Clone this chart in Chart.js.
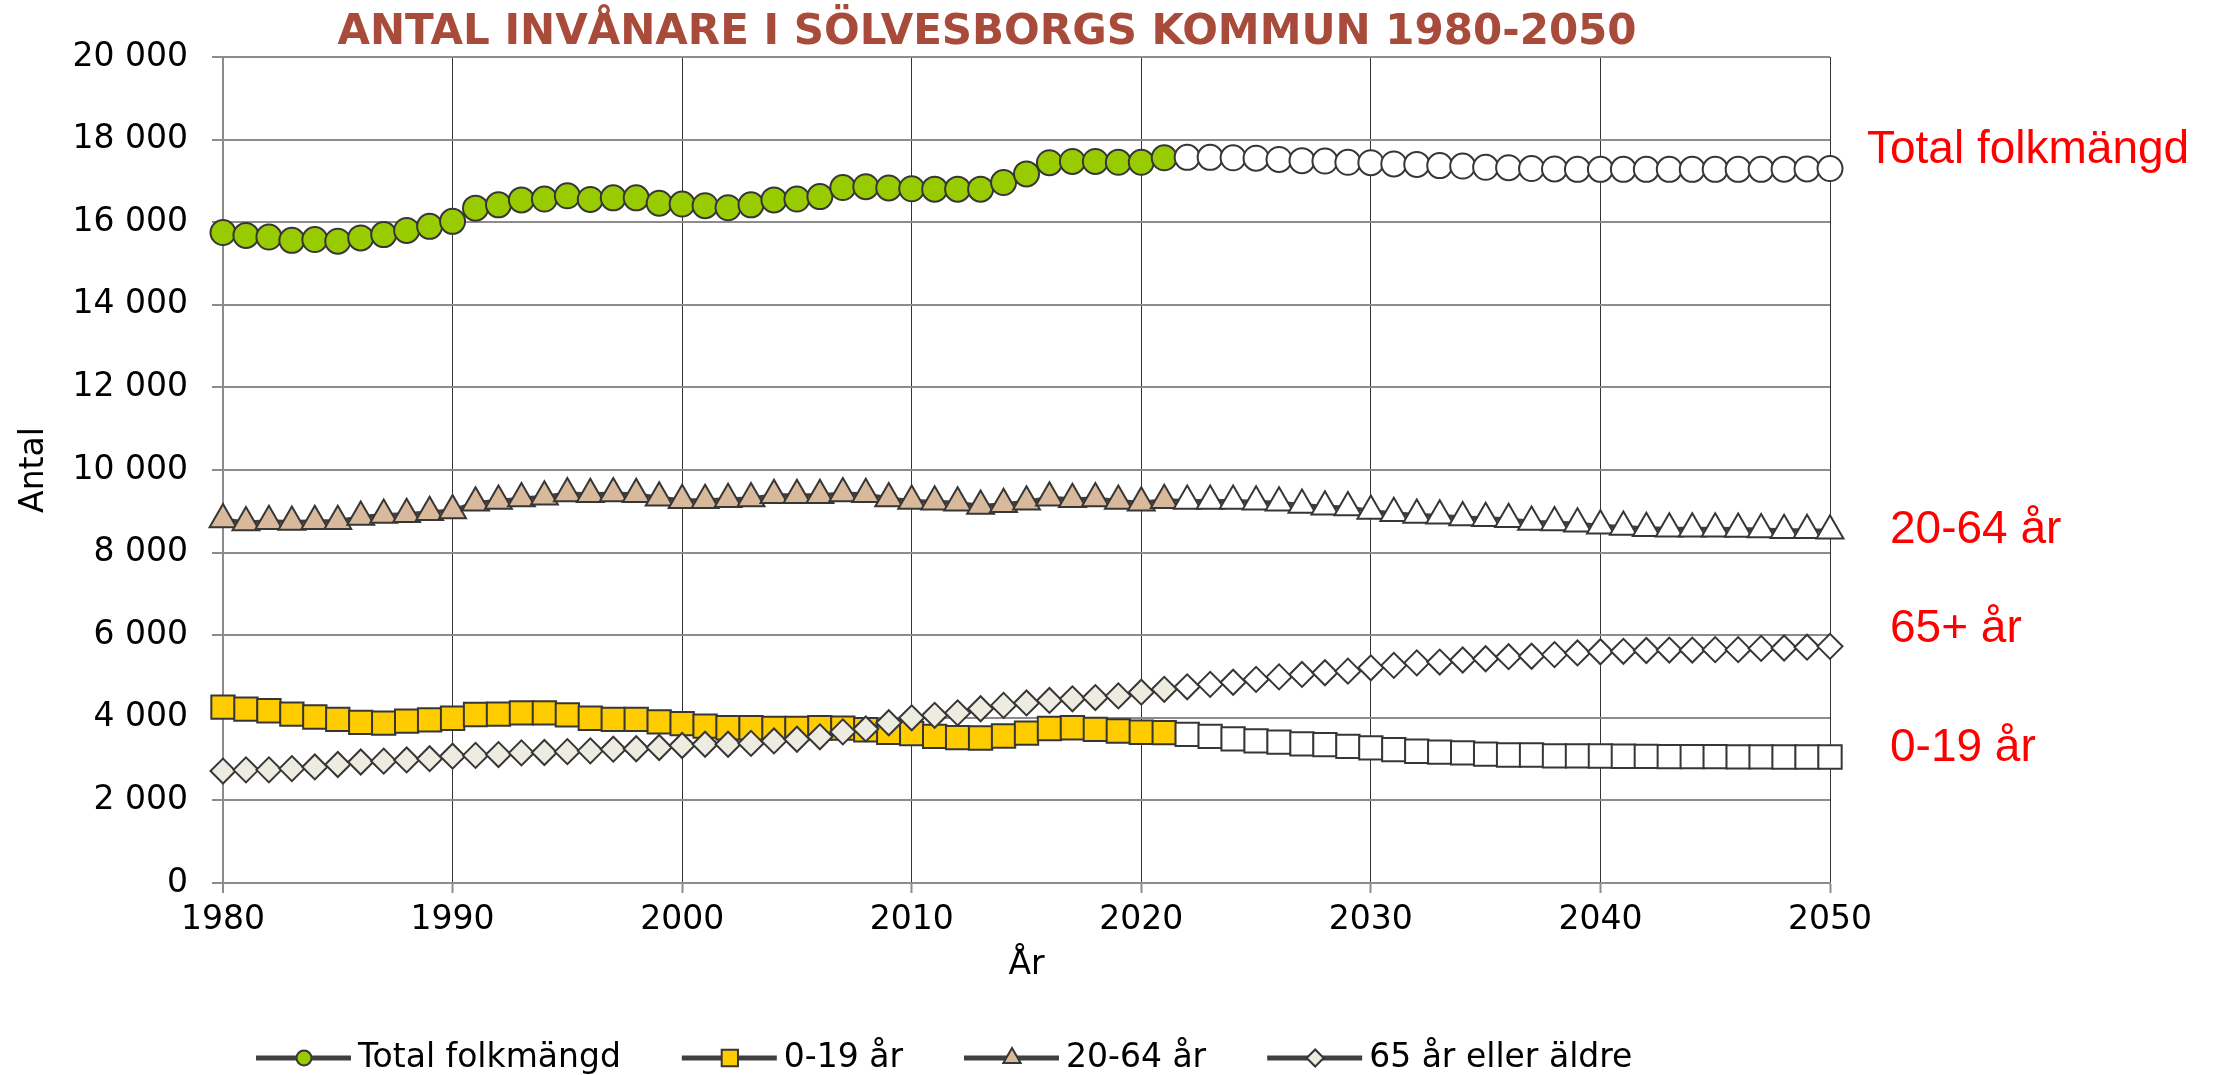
<!DOCTYPE html>
<html>
<head>
  <meta charset="utf-8"/>
  <script src="https://cdn.jsdelivr.net/npm/chart.js@4.4.1/dist/chart.umd.min.js"></script>
  <style>
    body { margin: 0; background: #ffffff; }
    canvas { display: block; }
  </style>
</head>
<body>
  <canvas id="chart" width="2226" height="1075"></canvas>
  <script>
    var years = [1980, 1981, 1982, 1983, 1984, 1985, 1986, 1987, 1988, 1989,
                 1990, 1991, 1992, 1993, 1994, 1995, 1996, 1997, 1998, 1999,
                 2000, 2001, 2002, 2003, 2004, 2005, 2006, 2007, 2008, 2009,
                 2010, 2011, 2012, 2013, 2014, 2015, 2016, 2017, 2018, 2019,
                 2020, 2021, 2022, 2023, 2024, 2025, 2026, 2027, 2028, 2029,
                 2030, 2031, 2032, 2033, 2034, 2035, 2036, 2037, 2038, 2039,
                 2040, 2041, 2042, 2043, 2044, 2045, 2046, 2047, 2048, 2049,
                 2050];
    // last year with outcome, later points are the forecast (white markers)
    var lastObserved = 2021;

    var total = [15750, 15680, 15640, 15560, 15580, 15540, 15620, 15700, 15800, 15900,
                 16020, 16340, 16420, 16540, 16560, 16640, 16550, 16590, 16590, 16460,
                 16440, 16400, 16350, 16420, 16540, 16560, 16620, 16840, 16860, 16830,
                 16810, 16800, 16800, 16800, 16960, 17170, 17440, 17470, 17470, 17450,
                 17450, 17560, 17570, 17570, 17560, 17550, 17520, 17490, 17480, 17450,
                 17440, 17410, 17400, 17370, 17360, 17330, 17320, 17300, 17290, 17280,
                 17280, 17280, 17280, 17280, 17280, 17280, 17280, 17280, 17285, 17290,
                 17300];
    var age0to19 = [4260, 4210, 4170, 4090, 4020, 3960, 3890, 3870, 3920, 3950,
                    3990, 4080, 4090, 4120, 4120, 4070, 3990, 3960, 3960, 3900,
                    3860, 3800, 3760, 3760, 3745, 3745, 3760, 3750, 3710, 3650,
                    3620, 3550, 3520, 3510, 3560, 3630, 3740, 3760, 3720, 3680,
                    3650, 3640, 3600, 3550, 3490, 3440, 3410, 3370, 3350, 3310,
                    3270, 3230, 3190, 3170, 3150, 3120, 3100, 3100, 3080, 3080,
                    3075, 3070, 3065, 3060, 3060, 3060, 3055, 3055, 3050, 3050,
                    3050];
    var age20to64 = [8800, 8730, 8760, 8740, 8760, 8760, 8860, 8910, 8930, 8980,
                     9020, 9210, 9250, 9310, 9350, 9430, 9410, 9430, 9410, 9330,
                     9270, 9270, 9290, 9310, 9390, 9390, 9390, 9430, 9410, 9310,
                     9250, 9230, 9210, 9130, 9170, 9230, 9330, 9290, 9310, 9250,
                     9210, 9270, 9250, 9250, 9250, 9230, 9210, 9150, 9110, 9090,
                     9010, 8950, 8910, 8890, 8850, 8830, 8810, 8740, 8730, 8700,
                     8650, 8620, 8590, 8580, 8580, 8580, 8570, 8560, 8540, 8540,
                     8530];
    var age65plus = [2710, 2740, 2740, 2770, 2810, 2870, 2930, 2950, 2980, 3010,
                     3070, 3090, 3110, 3150, 3160, 3180, 3200, 3240, 3250, 3280,
                     3330, 3360, 3360, 3380, 3440, 3480, 3540, 3660, 3730, 3880,
                     4000, 4060, 4120, 4220, 4300, 4360, 4420, 4460, 4490, 4530,
                     4620, 4690, 4750, 4810, 4860, 4930, 4990, 5050, 5090, 5130,
                     5210, 5270, 5330, 5350, 5400, 5430, 5480, 5490, 5530, 5570,
                     5600, 5610, 5630, 5640, 5640, 5650, 5650, 5680, 5690, 5710,
                     5730];

    var seriesNames = ["Total folkmängd", "0-19 år", "20-64 år", "65 år eller äldre"];

    // red labels to the right of the plot, y given in data units
    var sideLabels = ["Total folkmängd", "20-64 år", "65+ år", "0-19 år"];
    var sideLabelValues = [17750, 8550, 6150, 3270];

    var yTicks = { min: 0, max: 20000, step: 2000 };
    var xTicks = { min: 1980, max: 2050, step: 10 };

    var FONT = '"DejaVu Sans", "Liberation Sans", sans-serif';
    var TEXT_SIZE = 33;
    var LINE = "#404040";
    var EDGE = "#363636";
    var GRID = "#8c8c8c";

    function points(values) {
      var out = [];
      for (var i = 0; i < years.length; i++) out.push({ x: years[i], y: values[i] });
      return out;
    }

    function fillFor(color) {
      return function(ctx) {
        return years[ctx.dataIndex] > lastObserved ? "#ffffff" : color;
      };
    }

    function spaced(v) {
      return String(v).replace(/\B(?=(\d{3})+(?!\d))/g, " ");
    }

    function series(i, values, color, style, radius, legendRadius, order) {
      return {
        label: seriesNames[i],
        data: points(values),
        order: order,
        clip: false,
        borderColor: LINE,
        borderWidth: 4,
        pointStyle: style,
        pointRadius: radius,
        pointBorderWidth: 2,
        pointBorderColor: EDGE,
        pointBackgroundColor: fillFor(color),
        legendColor: color,
        legendRadius: legendRadius
      };
    }

    var decorations = {
      id: "decorations",
      afterDraw: function(chart) {
        var ctx = chart.ctx;
        var yScale = chart.scales.y;
        ctx.save();

        // title
        ctx.fillStyle = "#A84B3B";
        ctx.font = "bold 42px " + FONT;
        ctx.textAlign = "center";
        ctx.textBaseline = "alphabetic";
        ctx.fillText("ANTAL INVÅNARE I SÖLVESBORGS KOMMUN 1980-2050", 987, 44);

        // side labels
        ctx.fillStyle = "#ff0000";
        ctx.font = '46px "Liberation Sans", Arial, sans-serif';
        ctx.textAlign = "left";
        ctx.textBaseline = "middle";
        for (var i = 0; i < sideLabels.length; i++) {
          var lx = i == 0 ? 1867 : 1890;
          ctx.fillText(sideLabels[i], lx, yScale.getPixelForValue(sideLabelValues[i]));
        }

        // legend: line with marker, then the name
        var x = 256, y = 1058;
        ctx.font = TEXT_SIZE + "px " + FONT;
        ctx.textBaseline = "middle";
        chart.data.datasets.forEach(function(ds) {
          ctx.strokeStyle = LINE;
          ctx.lineWidth = 5;
          ctx.beginPath();
          ctx.moveTo(x, y);
          ctx.lineTo(x + 95, y);
          ctx.stroke();
          ctx.fillStyle = ds.legendColor;
          ctx.strokeStyle = EDGE;
          ctx.lineWidth = 2;
          Chart.helpers.drawPoint(ctx, {
            pointStyle: ds.pointStyle, radius: ds.legendRadius, borderWidth: 2, rotation: 0
          }, x + 48, y);
          ctx.fillStyle = "#000000";
          ctx.fillText(ds.label, x + 102, y);
          x += 102 + ctx.measureText(ds.label).width + 61;
        });
        ctx.restore();
      }
    };

    new Chart(document.getElementById("chart"), {
      type: "line",
      data: {
        datasets: [
          series(0, total, "#99CC00", "circle", 12.5, 7.5, 4),
          series(1, age0to19, "#FFCC00", "rect", 16.5, 11.5, 3),
          series(2, age20to64, "#D9B99B", "triangle", 15.5, 10, 2),
          series(3, age65plus, "#EEECE1", "rectRot", 12.5, 8.5, 1)
        ]
      },
      options: {
        responsive: false,
        devicePixelRatio: 1,
        animation: false,
        layout: { padding: { left: 0, top: 57, right: 396, bottom: 90 } },
        plugins: {
          legend: { display: false },
          tooltip: { enabled: false }
        },
        scales: {
          x: {
            type: "linear",
            min: xTicks.min,
            max: xTicks.max,
            afterFit: function(scale) { scale.height = 102; },
            ticks: {
              stepSize: xTicks.step,
              padding: 8,
              color: "#000000",
              font: { family: FONT, size: TEXT_SIZE },
              maxRotation: 0,
              callback: function(v) { return String(v); }
            },
            grid: {
              color: function(c) { return c.tick && c.tick.value == xTicks.min ? GRID : "#333333"; },
              lineWidth: function(c) { return c.tick && c.tick.value == xTicks.min ? 2 : 1; },
              tickColor: GRID,
              tickWidth: 2,
              tickLength: 10
            },
            border: { color: GRID, width: 2 },
            title: {
              display: true,
              text: "År",
              color: "#000000",
              font: { family: FONT, size: TEXT_SIZE },
              padding: { top: 0, bottom: 0 }
            }
          },
          y: {
            min: yTicks.min,
            max: yTicks.max,
            afterFit: function(scale) { scale.width = 223; },
            ticks: {
              stepSize: yTicks.step,
              padding: 24,
              color: "#000000",
              font: { family: FONT, size: TEXT_SIZE },
              callback: function(v) { return spaced(v); }
            },
            grid: {
              color: GRID,
              lineWidth: 2,
              tickColor: GRID,
              tickWidth: 2,
              tickLength: 11
            },
            border: { color: GRID, width: 2 },
            title: {
              display: true,
              text: "Antal",
              color: "#000000",
              font: { family: FONT, size: TEXT_SIZE },
              padding: { top: 15, bottom: 0 }
            }
          }
        }
      },
      plugins: [decorations]
    });
  </script>
</body>
</html>
